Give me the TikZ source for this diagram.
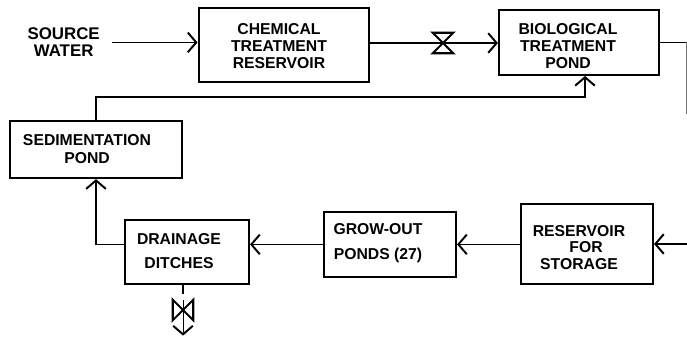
\documentclass[tikz,border=0pt]{standalone}
\usepackage{fontspec}
\setmainfont{Liberation Sans}
\usepackage{xcolor}
\usetikzlibrary{arrows.meta, positioning, calc}

\begin{document}
\begin{tikzpicture}[
  box/.style={rectangle, draw=black, line width=1.5pt, inner sep=0pt},
  lbl/.style={font=\fontsize{11.2}{11.5}\selectfont\bfseries, align=center, inner sep=0pt},
  arr/.style={-{Straight Barb[length=6pt, width=14pt, line width=1.4pt]}, line width=1.25pt, black},
  link/.style={line width=1.25pt, black},
  valve/.style={minimum size=0.5cm, inner sep=0pt},
  bowtie/.style={line width=1.5pt, black}
]
\useasboundingbox (0, 0) rectangle (17.175, 8.45);

\node[box, minimum width=4.25cm, minimum height=1.85cm] (chem) at (7.09, 7.325) {};
\node[box, minimum width=4.0cm, minimum height=1.625cm] (bio) at (14.475, 7.39) {};
\node[box, minimum width=4.3cm, minimum height=1.425cm] (sed) at (2.4, 4.71) {};
\node[box, minimum width=3.1cm, minimum height=1.6cm] (drain) at (4.675, 2.15) {};
\node[box, minimum width=3.3cm, minimum height=1.625cm] (grow) at (9.75, 2.34) {};
\node[box, minimum width=3.3cm, minimum height=2.0cm] (res) at (14.675, 2.35) {};

\node[lbl, font=\fontsize{12}{12}\selectfont\bfseries, inner xsep=0.3cm] (src) at (1.59, 7.39) {SOURCE\\WATER};
\node[lbl] (chemtxt) at (6.975, 7.3) {CHEMICAL\\[0.8pt]TREATMENT\\[0.8pt]RESERVOIR};
\node[lbl] (biotxt) at (14.2, 7.3) {BIOLOGICAL\\[0.8pt]TREATMENT\\[0.8pt]POND};
\node[lbl] (sedtxt) at (2.175, 4.725) {SEDIMENTATION\\[1.4pt]POND};
\node[lbl] (draintxt) at (4.475, 2.175) {DRAINAGE\\[5.5pt]DITCHES};
\node[lbl] (growtxt) at (9.45, 2.3625) {GROW-OUT\\[6.2pt]PONDS (27)};
\node[lbl] (restxt) at (14.475, 2.2625) {RESERVOIR\\\hspace*{10pt}FOR\\STORAGE};

\node[valve] (vtop) at (11.075, 7.375) {};
\node[valve] (vbot) at (4.575, 0.7) {};
\draw[bowtie] (vtop.north west) -- (vtop.north east) -- (vtop.south west) -- (vtop.south east) -- cycle;
\draw[bowtie] (vbot.north west) -- (vbot.south west) -- (vbot.north east) -- (vbot.south east) -- cycle;

\coordinate (bioin) at (14.625, 6.025);
\coordinate (topright) at (17.15, 7.39);
\coordinate (fadeend) at (17.15, 5.6);
\coordinate (resin) at (17.175, 2.35);
\coordinate (ditchgap) at (4.575, 1.1);
\coordinate (ditchout) at (4.575, 0.06);

\draw[arr] (src.east) -- (src.east -| chem.west);
\draw[link] (vtop.center -| chem.east) -- (vtop.center);
\draw[arr] (vtop.center) -- (vtop.center -| bio.west);
\draw[arr] (sed.north) |- (bioin) -- (bioin |- bio.south);
\draw[link] (bio.east) -- (topright);
\draw[black!55, line width=0.5pt] (topright) -- (fadeend);
\draw[arr] (resin) -- (res.east);
\draw[arr] (res.west |- grow.east) -- (grow.east);
\draw[arr] (grow.west) -- (grow.west -| drain.east);
\draw[arr] (grow.west -| drain.west) -| (sed.south);
\draw[link] (vbot |- drain.south) -- (ditchgap);
\draw[arr, line width=0.5pt] (vbot.north) -- (ditchout);
\end{tikzpicture}
\end{document}
